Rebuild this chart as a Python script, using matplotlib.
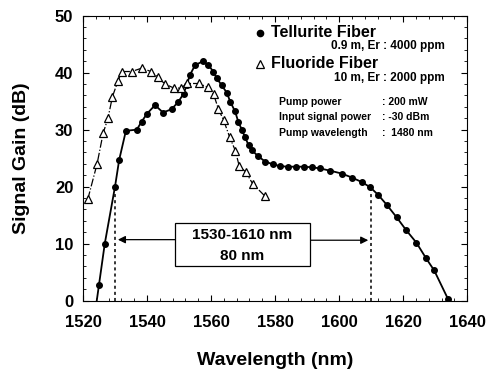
import matplotlib.pyplot as plt
import numpy as np
from matplotlib.ticker import MultipleLocator
from matplotlib.patches import Rectangle

plt.rcParams['font.family'] = ['Liberation Sans', 'DejaVu Sans']
plt.rcParams['font.weight'] = 'bold'

# tellurite fiber (filled circles)
tel_wl = [1524.3, 1525, 1526.8, 1530, 1531.3, 1533.4, 1536.8, 1538.3, 1540, 1542.5, 1545, 1547.7,
          1549.8, 1551.4, 1552.4, 1553.4, 1555, 1557.4, 1559.2, 1560.7, 1561.8, 1563.3,
          1564.9, 1566, 1567.5, 1568.5, 1569.6, 1570.6, 1571.7, 1572.7, 1574.8, 1576.9,
          1579.4, 1581.6, 1584, 1586.5, 1589, 1591.5, 1594, 1597.2, 1600.8, 1604, 1607.1,
          1609.7, 1612.3, 1614.9, 1618, 1620.9, 1624.1, 1627.2, 1629.7, 1634]
tel_gain = [0, 2.8, 10, 20, 24.7, 29.8, 30, 31.4, 32.8, 34.3, 33, 33.6, 34.9, 36.3, 37.8, 39.6,
            41.3, 42, 41.3, 40.2, 39, 37.8, 36.5, 34.9, 33.2, 31.4, 30, 28.7, 27.3, 26.4,
            25.3, 24.4, 23.9, 23.6, 23.5, 23.5, 23.5, 23.4, 23.2, 22.8, 22.3, 21.6, 20.8,
            19.9, 18.5, 16.8, 14.6, 12.4, 10.2, 7.4, 5.3, 0.3]

# fluoride fiber (open triangles)
flu_wl = [1521.5, 1524.4, 1526.3, 1527.8, 1529.2, 1530.9, 1532.1, 1535.2, 1538.4, 1541.2,
          1543.4, 1545.6, 1548.4, 1550.6, 1552.5, 1556.1, 1559.2, 1560.8, 1562.3, 1563.9,
          1565.8, 1567.6, 1568.8, 1570.8, 1573, 1576.9]
flu_gain = [17.8, 24.0, 29.4, 32.0, 35.8, 38.5, 40.2, 40.2, 40.8, 40.2, 39.2, 38.0, 37.3,
            37.3, 38.1, 38.1, 37.4, 36.2, 33.6, 31.7, 28.7, 26.3, 23.6, 22.6, 20.5, 18.3]

band = [1530, 1610]
band_top = [20, 20]

fig = plt.figure(figsize=(4.97, 3.73), dpi=100)
ax = fig.add_axes([0.167, 0.194, 0.773, 0.764])

ax.plot(tel_wl[1:], tel_gain[1:], 'o', color='black', ms=4, zorder=3)
ax.plot(tel_wl, tel_gain, '-', color='black', lw=1.3)
ax.plot(flu_wl, flu_gain, '^', mfc='white', mec='black', ms=5.5, mew=0.9, zorder=3)
ax.plot(flu_wl, flu_gain, '-.', color='black', lw=0.9)

# dashed markers of band edges
for b, t in zip(band, band_top):
    ax.plot([b, b], [0, t], color='black', lw=1.1, ls=(0, (2, 2)))

# box with band width
ax.add_patch(Rectangle((1548.8, 6.1), 42.1, 7.6, fc='white', ec='black', lw=0.9, zorder=4))
ax.text(1569.8, 11.6, '1530-1610 nm', ha='center', va='center', fontsize=11, zorder=5)
ax.text(1569.8, 7.9, '80 nm', ha='center', va='center', fontsize=11, zorder=5)
ax.annotate('', xy=(1530.9, 10.7), xytext=(1548.8, 10.7),
            arrowprops=dict(arrowstyle='-|>', color='black', lw=0.9, mutation_scale=11,
                            shrinkA=0, shrinkB=0))
ax.annotate('', xy=(1609.1, 10.6), xytext=(1590.9, 10.6),
            arrowprops=dict(arrowstyle='-|>', color='black', lw=0.9, mutation_scale=11,
                            shrinkA=0, shrinkB=0))

# legend / notes
ax.plot([1575.3], [47.0], 'o', color='black', ms=4.5)
ax.text(1578.8, 47.0, 'Tellurite Fiber', fontsize=11.5, va='center')
ax.text(1633, 44.6, '0.9 m, Er : 4000 ppm', fontsize=8.5, ha='right', va='center')
ax.plot([1575.3], [41.6], '^', mfc='white', mec='black', ms=5.5, mew=0.9)
ax.text(1578.8, 41.6, 'Fluoride Fiber', fontsize=11.5, va='center')
ax.text(1633, 39.0, '10 m, Er : 2000 ppm', fontsize=8.5, ha='right', va='center')
ax.text(1581.3, 34.9, 'Pump power', fontsize=7.5, va='center')
ax.text(1613.5, 34.9, ': 200 mW', fontsize=7.5, va='center')
ax.text(1581.3, 32.2, 'Input signal power', fontsize=7.5, va='center')
ax.text(1613.5, 32.2, ': -30 dBm', fontsize=7.5, va='center')
ax.text(1581.3, 29.4, 'Pump wavelength', fontsize=7.5, va='center')
ax.text(1613.5, 29.4, ':  1480 nm', fontsize=7.5, va='center')

ax.set_xlim(1520, 1640)
ax.set_ylim(0, 50)
ax.set_xticks(np.arange(1520, 1641, 20))
ax.set_yticks(np.arange(0, 51, 10))
ax.xaxis.set_minor_locator(MultipleLocator(4))
ax.yaxis.set_minor_locator(MultipleLocator(2))
ax.tick_params(which='both', direction='in', top=True, right=True)
ax.tick_params(which='major', length=4, labelsize=12)
ax.tick_params(axis='x', which='major', pad=10)
ax.tick_params(axis='y', which='major', pad=7)
ax.tick_params(which='minor', length=2)
for lab in ax.get_xticklabels() + ax.get_yticklabels():
    lab.set_fontweight('bold')

ax.set_xlabel('Wavelength (nm)', fontsize=14, fontweight='bold', labelpad=16)
ax.set_ylabel('Signal Gain (dB)', fontsize=14, fontweight='bold', labelpad=18)

fig.savefig('out.png', dpi=100)
